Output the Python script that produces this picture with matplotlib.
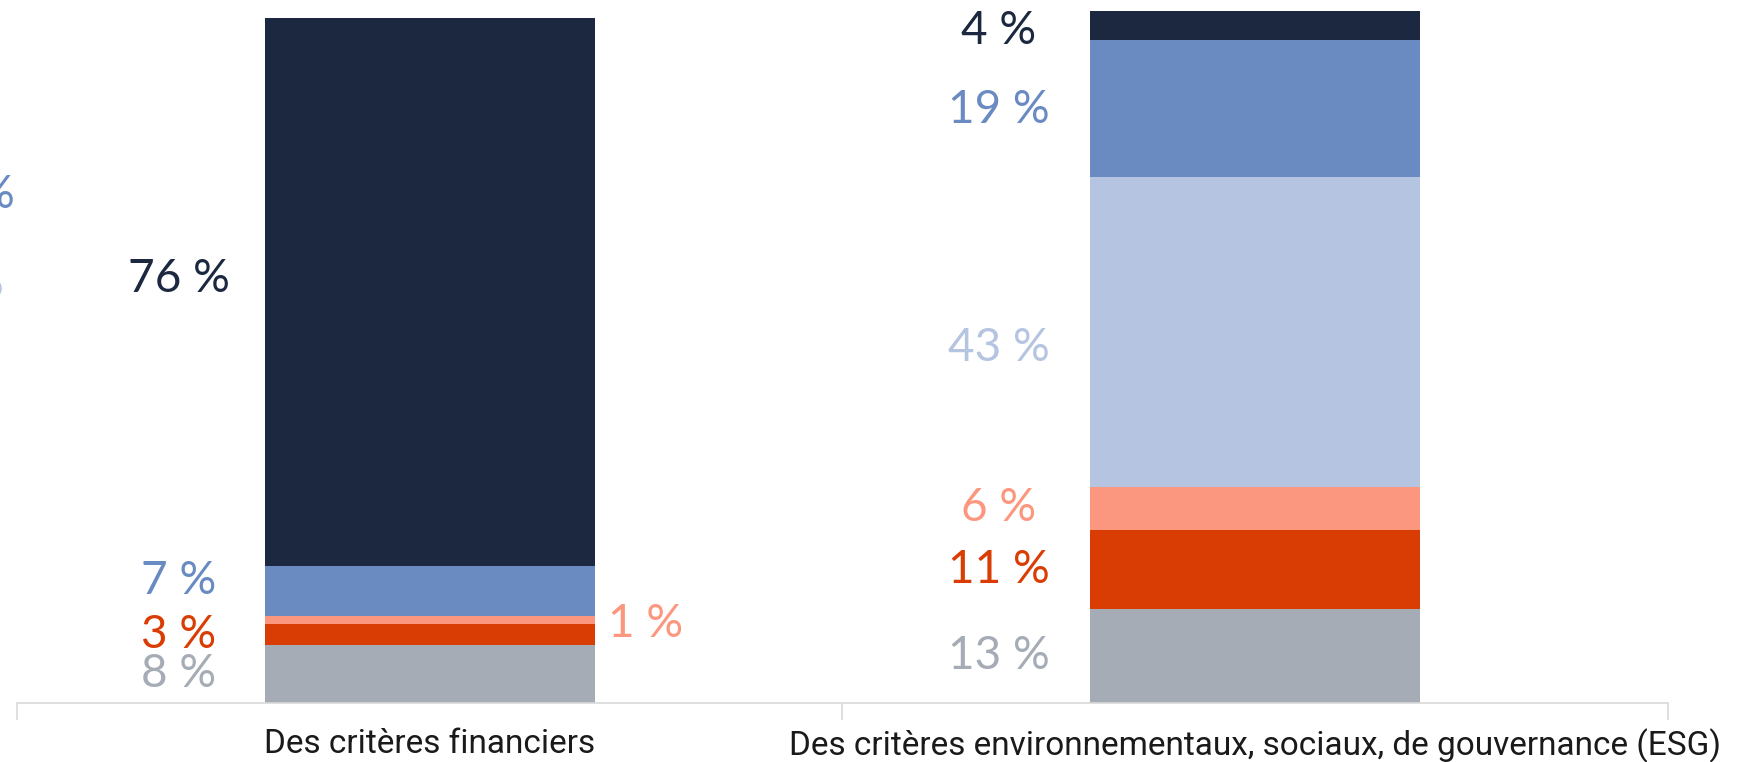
import matplotlib
matplotlib.use("Agg")
import matplotlib.pyplot as plt
import numpy as np

categories = ["Des critères financiers",
              "Des critères environnementaux, sociaux, de gouvernance (ESG)"]
series_names = ["gris", "rouge", "saumon", "bleu clair", "bleu", "marine"]
gris = [8, 13]
rouge = [3, 11]
saumon = [1, 6]
bleu_clair = [0, 43]
bleu = [7, 19]
marine = [76, 4]

colors = ["#A5ACB5", "#DA3D04", "#FC977F", "#B4C4E1", "#6A8BC1", "#1C2840"]
series = [gris, rouge, saumon, bleu_clair, bleu, marine]

W, H = 1749, 762
fig = plt.figure(figsize=(W / 100, H / 100), dpi=100)
ax = fig.add_axes([17 / W, 59 / H, (1668 - 17) / W, 703 / H])

x = np.arange(len(categories))
bw = 0.4
bottom = np.zeros(len(categories))
label_font = dict(family=["Lato", "DejaVu Sans"], fontweight="normal", fontsize=33)
# small vertical nudges (in data units) for a few labels, to mirror the reference
nudge = {(0, 4): 1.4, (0, 5): 1.8, (1, 3): -2.2, (1, 5): -0.8, (1, 4): -0.3}
for si, (vals, col) in enumerate(zip(series, colors)):
    vals = np.array(vals, dtype=float)
    ax.bar(x, vals, bw, bottom=bottom, color=col, linewidth=0)
    for ci in range(len(categories)):
        v = vals[ci]
        if v <= 0:
            continue
        yc = bottom[ci] + v / 2 + nudge.get((ci, si), 0)
        if ci == 0 and series_names[si] == "saumon":
            ax.text(x[ci] + bw / 2 + 0.016, yc - 0.5, f"{int(v)} %", color=col,
                    ha="left", va="center", **label_font)
        else:
            xc = x[ci] - bw / 2 - (0.104 if ci == 0 else 0.111)
            ax.text(xc, yc, f"{int(v)} %", color=col, ha="center",
                    va="center", **label_font)
    bottom += vals

# partially visible labels from a neighbouring chart at the left edge
ax.text(15 / W, 1 - 195 / H, "%", transform=fig.transFigure, color=colors[4],
        ha="right", va="center", clip_on=False, **label_font)
ax.text(4 / W, 1 - 284 / H, "%", transform=fig.transFigure, color=colors[3],
        ha="right", va="center", clip_on=False, **label_font)

ax.set_xlim(-0.5, 1.5)
ax.set_ylim(0, 97.5)
for s in ["top", "right", "left"]:
    ax.spines[s].set_visible(False)
ax.spines["bottom"].set_color("#D9D9D9")
ax.spines["bottom"].set_linewidth(1.2)
ax.set_yticks([])
ax.set_xticks([-0.5, 0.5, 1.5])
ax.set_xticklabels([])
ax.tick_params(axis="x", which="major", length=12, color="#D9D9D9", width=1.2)
ax.set_xticks(x, minor=True)
ax.set_xticklabels(categories, minor=True, fontsize=24,
                   family=["Roboto", "DejaVu Sans"], color="#1a1a1a")
ax.tick_params(axis="x", which="minor", length=0, pad=18)

fig.savefig("out.png", dpi=100)
